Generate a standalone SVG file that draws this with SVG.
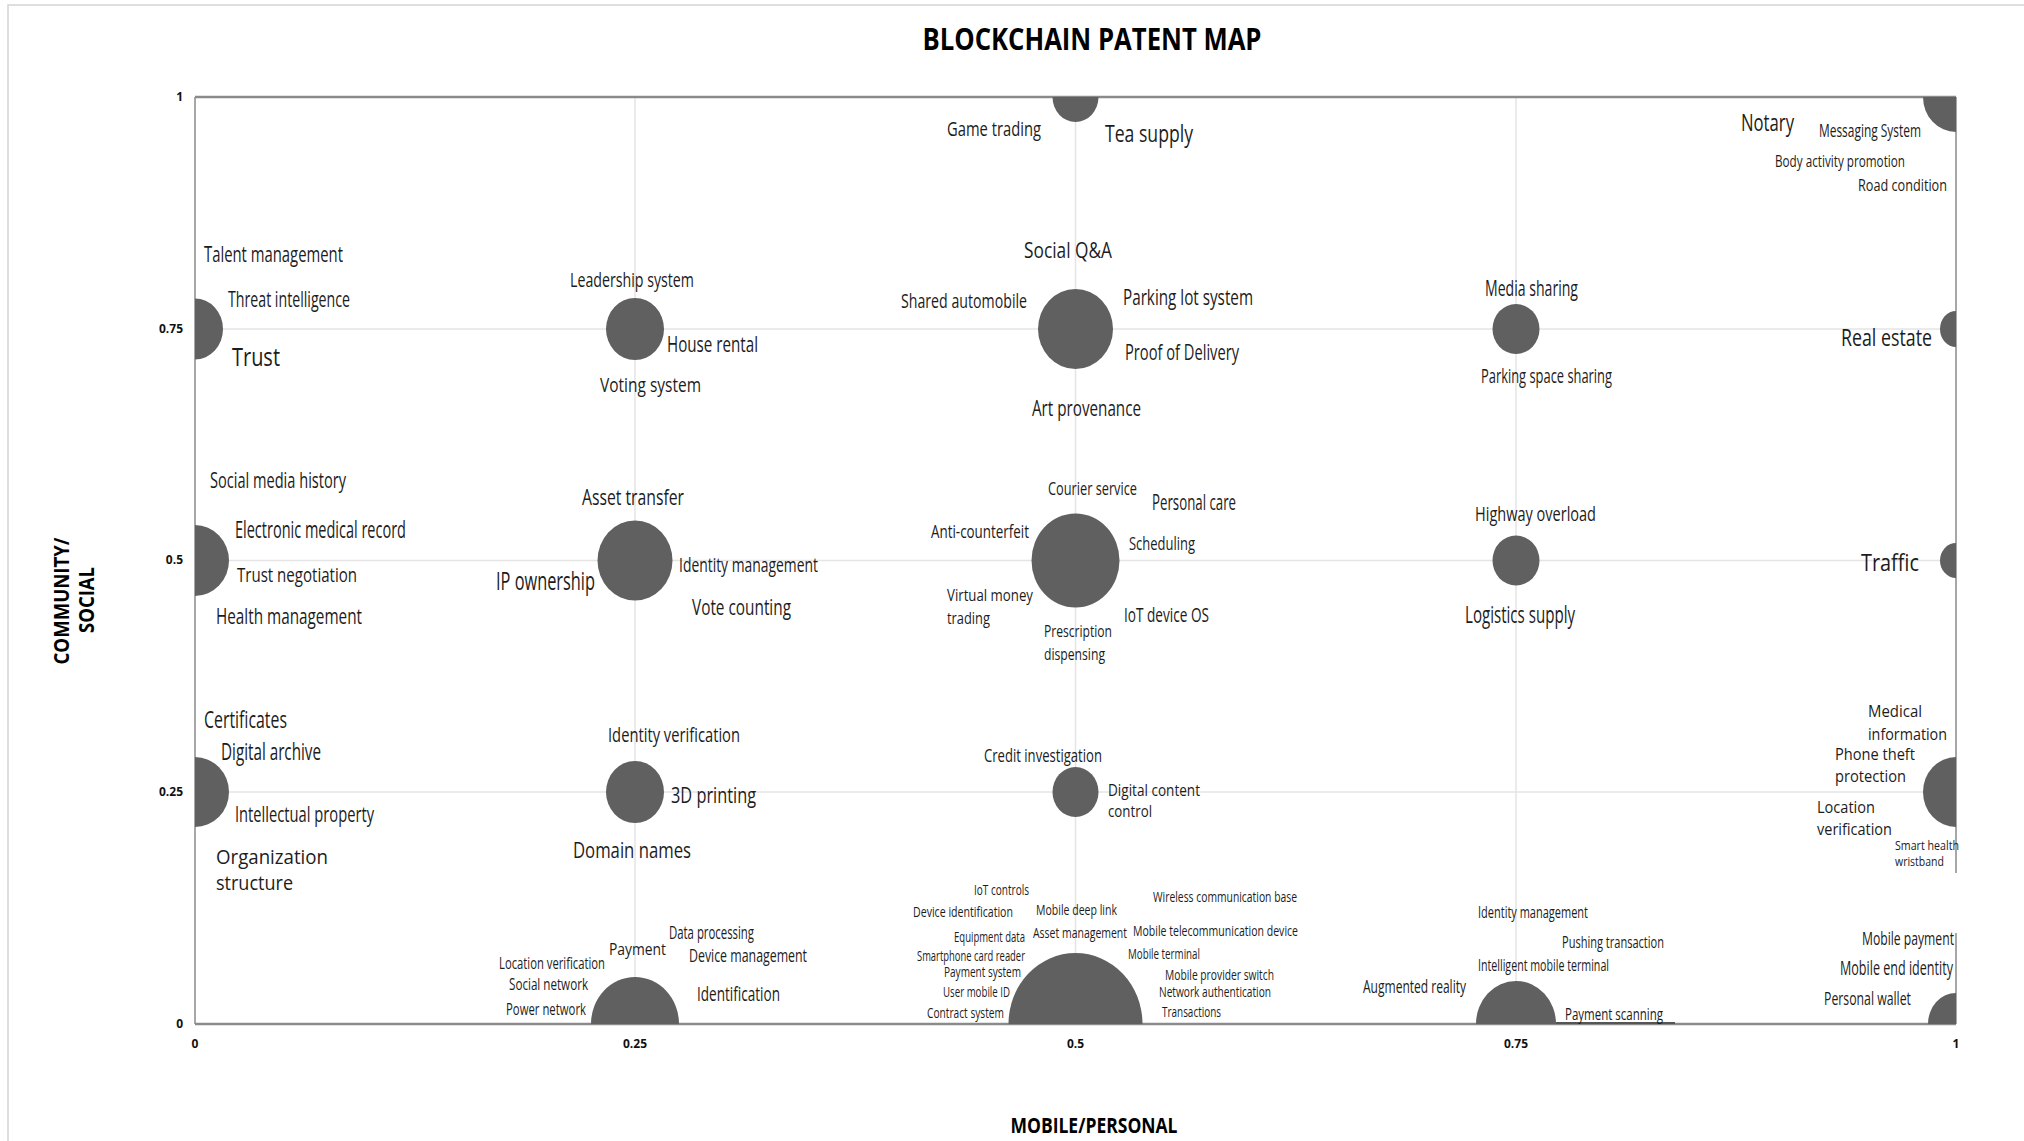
<svg xmlns="http://www.w3.org/2000/svg" width="2024" height="1141" viewBox="0 0 2024 1141">
<style>
.lbl{font-family:"Open Sans","Liberation Sans",sans-serif;fill:#1c1c1c}
.bub{fill:#606060}
.tick{font-family:"Open Sans","Liberation Sans",sans-serif;font-weight:700;font-size:12px;fill:#111}
.ttl{font-family:"Open Sans","Liberation Sans",sans-serif;font-weight:700;fill:#000}
.grid{stroke:#e4e4e4;stroke-width:1.5;fill:none}
.frame{stroke:#8a8a8a;fill:none}
</style>
<defs>
<clipPath id="plot"><rect x="195" y="97" width="1761" height="927"/></clipPath>
</defs>
<rect x="8" y="5" width="2030" height="1150" fill="#fff" stroke="#d4d4d4" stroke-width="1.5"/>
<text class="ttl" x="1092" y="50" font-size="30" text-anchor="middle" textLength="339" lengthAdjust="spacingAndGlyphs">BLOCKCHAIN PATENT MAP</text>
<g id="connectors">
<line class="grid" x1="635" y1="97" x2="635" y2="1024"/>
<line class="grid" x1="1075.5" y1="97" x2="1075.5" y2="1024"/>
<line class="grid" x1="1516" y1="97" x2="1516" y2="1024"/>
<line class="grid" x1="195" y1="329" x2="1956" y2="329"/>
<line class="grid" x1="195" y1="560.5" x2="1956" y2="560.5"/>
<line class="grid" x1="195" y1="792" x2="1956" y2="792"/>
<line class="frame" x1="195" y1="97" x2="1956" y2="97" stroke-width="2.5"/>
<line class="frame" x1="195" y1="97" x2="195" y2="1024" stroke-width="1.5"/>
<line class="frame" x1="1956" y1="97" x2="1956" y2="873" stroke-width="1.5"/>
<line class="frame" x1="1956" y1="933" x2="1956" y2="1024" stroke-width="1.5"/>
<line class="frame" x1="195" y1="1024" x2="1956" y2="1024" stroke-width="2.5"/>
<line x1="1556" y1="1023" x2="1675" y2="1023" stroke="#555" stroke-width="2"/>
</g>
<g id="axis-labels">
<text class="tick" x="183" y="101" text-anchor="end">1</text>
<text class="tick" x="183" y="333" text-anchor="end">0.75</text>
<text class="tick" x="183" y="564" text-anchor="end">0.5</text>
<text class="tick" x="183" y="796" text-anchor="end">0.25</text>
<text class="tick" x="183" y="1028" text-anchor="end">0</text>
<text class="tick" x="195" y="1048" text-anchor="middle">0</text>
<text class="tick" x="635" y="1048" text-anchor="middle">0.25</text>
<text class="tick" x="1075.5" y="1048" text-anchor="middle">0.5</text>
<text class="tick" x="1516" y="1048" text-anchor="middle">0.75</text>
<text class="tick" x="1956" y="1048" text-anchor="middle">1</text>
<text class="ttl" x="1094" y="1133" font-size="22" text-anchor="middle" textLength="167" lengthAdjust="spacingAndGlyphs">MOBILE/PERSONAL</text>
<text class="ttl" transform="translate(69,601) rotate(-90)" font-size="22" text-anchor="middle" textLength="127" lengthAdjust="spacingAndGlyphs">COMMUNITY/</text>
<text class="ttl" transform="translate(94,600) rotate(-90)" font-size="22" text-anchor="middle" textLength="66" lengthAdjust="spacingAndGlyphs">SOCIAL</text>
</g>
<g clip-path="url(#plot)">
<g id="n-050-100"><ellipse class="bub" cx="1075.5" cy="97" rx="23" ry="25"/></g>
<g id="n-100-100"><ellipse class="bub" cx="1956" cy="97" rx="33" ry="35"/></g>
<g id="n-000-075"><ellipse class="bub" cx="195" cy="329" rx="28" ry="30.5"/></g>
<g id="n-025-075"><ellipse class="bub" cx="635" cy="329" rx="29" ry="31"/></g>
<g id="n-050-075"><ellipse class="bub" cx="1075.5" cy="329" rx="37.5" ry="40"/></g>
<g id="n-075-075"><ellipse class="bub" cx="1516" cy="329" rx="23.5" ry="25"/></g>
<g id="n-100-075"><ellipse class="bub" cx="1956" cy="329" rx="16" ry="18"/></g>
<g id="n-000-050"><ellipse class="bub" cx="195" cy="560.5" rx="34" ry="35.5"/></g>
<g id="n-025-050"><ellipse class="bub" cx="635" cy="560.5" rx="37.5" ry="40"/></g>
<g id="n-050-050"><ellipse class="bub" cx="1075.5" cy="560.5" rx="44" ry="47"/></g>
<g id="n-075-050"><ellipse class="bub" cx="1516" cy="560.5" rx="23.5" ry="25"/></g>
<g id="n-100-050"><ellipse class="bub" cx="1956" cy="560.5" rx="16" ry="17.5"/></g>
<g id="n-000-025"><ellipse class="bub" cx="195" cy="792" rx="34" ry="35"/></g>
<g id="n-025-025"><ellipse class="bub" cx="635" cy="792" rx="29" ry="31"/></g>
<g id="n-050-025"><ellipse class="bub" cx="1075.5" cy="792" rx="23" ry="25"/></g>
<g id="n-100-025"><ellipse class="bub" cx="1956" cy="792" rx="33" ry="35"/></g>
<g id="n-025-000"><ellipse class="bub" cx="635" cy="1024" rx="44" ry="47"/></g>
<g id="n-050-000"><ellipse class="bub" cx="1075.5" cy="1024" rx="67" ry="71"/></g>
<g id="n-075-000"><ellipse class="bub" cx="1516" cy="1024" rx="40" ry="43"/></g>
<g id="n-100-000"><ellipse class="bub" cx="1956" cy="1024" rx="28" ry="31"/></g>
</g>
<g id="labels" class="lbl">
<g id="l-050-100">
<text x="947" y="136" font-size="20" textLength="94" lengthAdjust="spacingAndGlyphs">Game trading</text>
<text x="1105" y="142" font-size="24" textLength="88" lengthAdjust="spacingAndGlyphs">Tea supply</text>
</g>
<g id="l-100-100">
<text x="1741" y="131" font-size="24" textLength="53" lengthAdjust="spacingAndGlyphs">Notary</text>
<text x="1819" y="137" font-size="18" textLength="102" lengthAdjust="spacingAndGlyphs">Messaging System</text>
<text x="1775" y="167" font-size="17" textLength="130" lengthAdjust="spacingAndGlyphs">Body activity promotion</text>
<text x="1858" y="191" font-size="17" textLength="89" lengthAdjust="spacingAndGlyphs">Road condition</text>
</g>
<g id="l-000-075">
<text x="204" y="262" font-size="21" textLength="139" lengthAdjust="spacingAndGlyphs">Talent management</text>
<text x="228" y="307" font-size="22" textLength="122" lengthAdjust="spacingAndGlyphs">Threat intelligence</text>
<text x="232" y="366" font-size="26" textLength="48" lengthAdjust="spacingAndGlyphs">Trust</text>
</g>
<g id="l-025-075">
<text x="570" y="287" font-size="20" textLength="124" lengthAdjust="spacingAndGlyphs">Leadership system</text>
<text x="667" y="352" font-size="22" textLength="91" lengthAdjust="spacingAndGlyphs">House rental</text>
<text x="600" y="392" font-size="20" textLength="101" lengthAdjust="spacingAndGlyphs">Voting system</text>
</g>
<g id="l-050-075">
<text x="1024" y="258" font-size="21" textLength="88" lengthAdjust="spacingAndGlyphs">Social Q&amp;A</text>
<text x="901" y="308" font-size="20" textLength="126" lengthAdjust="spacingAndGlyphs">Shared automobile</text>
<text x="1123" y="305" font-size="22" textLength="130" lengthAdjust="spacingAndGlyphs">Parking lot system</text>
<text x="1125" y="360" font-size="22" textLength="114" lengthAdjust="spacingAndGlyphs">Proof of Delivery</text>
<text x="1032" y="416" font-size="22" textLength="109" lengthAdjust="spacingAndGlyphs">Art provenance</text>
</g>
<g id="l-075-075">
<text x="1485" y="296" font-size="21" textLength="93" lengthAdjust="spacingAndGlyphs">Media sharing</text>
<text x="1481" y="383" font-size="20" textLength="131" lengthAdjust="spacingAndGlyphs">Parking space sharing</text>
</g>
<g id="l-100-075">
<text x="1841" y="346" font-size="24" textLength="91" lengthAdjust="spacingAndGlyphs">Real estate</text>
</g>
<g id="l-000-050">
<text x="210" y="488" font-size="21" textLength="136" lengthAdjust="spacingAndGlyphs">Social media history</text>
<text x="235" y="538" font-size="23" textLength="171" lengthAdjust="spacingAndGlyphs">Electronic medical record</text>
<text x="237" y="582" font-size="20" textLength="120" lengthAdjust="spacingAndGlyphs">Trust negotiation</text>
<text x="216" y="624" font-size="22" textLength="146" lengthAdjust="spacingAndGlyphs">Health management</text>
</g>
<g id="l-025-050">
<text x="582" y="505" font-size="22" textLength="102" lengthAdjust="spacingAndGlyphs">Asset transfer</text>
<text x="496" y="590" font-size="25" textLength="99" lengthAdjust="spacingAndGlyphs">IP ownership</text>
<text x="679" y="572" font-size="20" textLength="139" lengthAdjust="spacingAndGlyphs">Identity management</text>
<text x="692" y="615" font-size="21" textLength="99" lengthAdjust="spacingAndGlyphs">Vote counting</text>
</g>
<g id="l-050-050">
<text x="1048" y="495" font-size="18" textLength="89" lengthAdjust="spacingAndGlyphs">Courier service</text>
<text x="1152" y="510" font-size="22" textLength="84" lengthAdjust="spacingAndGlyphs">Personal care</text>
<text x="931" y="538" font-size="19" textLength="98" lengthAdjust="spacingAndGlyphs">Anti-counterfeit</text>
<text x="1129" y="550" font-size="19" textLength="66" lengthAdjust="spacingAndGlyphs">Scheduling</text>
<text x="947" y="601" font-size="17" textLength="86" lengthAdjust="spacingAndGlyphs">Virtual money</text>
<text x="947" y="624" font-size="17" textLength="43" lengthAdjust="spacingAndGlyphs">trading</text>
<text x="1124" y="622" font-size="20" textLength="85" lengthAdjust="spacingAndGlyphs">IoT device OS</text>
<text x="1044" y="637" font-size="16" textLength="68" lengthAdjust="spacingAndGlyphs">Prescription</text>
<text x="1044" y="660" font-size="16" textLength="61" lengthAdjust="spacingAndGlyphs">dispensing</text>
</g>
<g id="l-075-050">
<text x="1475" y="521" font-size="20" textLength="121" lengthAdjust="spacingAndGlyphs">Highway overload</text>
<text x="1465" y="623" font-size="23" textLength="110" lengthAdjust="spacingAndGlyphs">Logistics supply</text>
</g>
<g id="l-100-050">
<text x="1861" y="571" font-size="24" textLength="58" lengthAdjust="spacingAndGlyphs">Traffic</text>
</g>
<g id="l-000-025">
<text x="204" y="728" font-size="24" textLength="83" lengthAdjust="spacingAndGlyphs">Certificates</text>
<text x="221" y="760" font-size="23" textLength="100" lengthAdjust="spacingAndGlyphs">Digital archive</text>
<text x="235" y="822" font-size="22" textLength="139" lengthAdjust="spacingAndGlyphs">Intellectual property</text>
<text x="216" y="864" font-size="20" textLength="112" lengthAdjust="spacingAndGlyphs">Organization</text>
<text x="216" y="890" font-size="20" textLength="77" lengthAdjust="spacingAndGlyphs">structure</text>
</g>
<g id="l-025-025">
<text x="608" y="742" font-size="20" textLength="132" lengthAdjust="spacingAndGlyphs">Identity verification</text>
<text x="671" y="803" font-size="22" textLength="85" lengthAdjust="spacingAndGlyphs">3D printing</text>
<text x="573" y="858" font-size="22" textLength="118" lengthAdjust="spacingAndGlyphs">Domain names</text>
</g>
<g id="l-050-025">
<text x="984" y="762" font-size="19" textLength="118" lengthAdjust="spacingAndGlyphs">Credit investigation</text>
<text x="1108" y="796" font-size="17" textLength="92" lengthAdjust="spacingAndGlyphs">Digital content</text>
<text x="1108" y="817" font-size="17" textLength="44" lengthAdjust="spacingAndGlyphs">control</text>
</g>
<g id="l-100-025">
<text x="1868" y="717" font-size="17" textLength="54" lengthAdjust="spacingAndGlyphs">Medical</text>
<text x="1868" y="740" font-size="17" textLength="79" lengthAdjust="spacingAndGlyphs">information</text>
<text x="1835" y="760" font-size="17" textLength="80" lengthAdjust="spacingAndGlyphs">Phone theft</text>
<text x="1835" y="782" font-size="17" textLength="71" lengthAdjust="spacingAndGlyphs">protection</text>
<text x="1817" y="813" font-size="17" textLength="58" lengthAdjust="spacingAndGlyphs">Location</text>
<text x="1817" y="835" font-size="17" textLength="75" lengthAdjust="spacingAndGlyphs">verification</text>
<text x="1895" y="850" font-size="13" textLength="64" lengthAdjust="spacingAndGlyphs">Smart health</text>
<text x="1895" y="866" font-size="13" textLength="49" lengthAdjust="spacingAndGlyphs">wristband</text>
</g>
<g id="l-025-000">
<text x="499" y="969" font-size="17" textLength="106" lengthAdjust="spacingAndGlyphs">Location verification</text>
<text x="509" y="990" font-size="17" textLength="79" lengthAdjust="spacingAndGlyphs">Social network</text>
<text x="506" y="1015" font-size="17" textLength="80" lengthAdjust="spacingAndGlyphs">Power network</text>
<text x="609" y="955" font-size="16" textLength="57" lengthAdjust="spacingAndGlyphs">Payment</text>
<text x="669" y="939" font-size="18" textLength="85" lengthAdjust="spacingAndGlyphs">Data processing</text>
<text x="689" y="962" font-size="19" textLength="118" lengthAdjust="spacingAndGlyphs">Device management</text>
<text x="697" y="1001" font-size="20" textLength="83" lengthAdjust="spacingAndGlyphs">Identification</text>
</g>
<g id="l-050-000">
<text x="974" y="895" font-size="14" textLength="55" lengthAdjust="spacingAndGlyphs">IoT controls</text>
<text x="913" y="917" font-size="14" textLength="100" lengthAdjust="spacingAndGlyphs">Device identification</text>
<text x="1036" y="915" font-size="14" textLength="81" lengthAdjust="spacingAndGlyphs">Mobile deep link</text>
<text x="1153" y="902" font-size="14" textLength="144" lengthAdjust="spacingAndGlyphs">Wireless communication base</text>
<text x="954" y="942" font-size="14" textLength="71" lengthAdjust="spacingAndGlyphs">Equipment data</text>
<text x="1033" y="938" font-size="14" textLength="94" lengthAdjust="spacingAndGlyphs">Asset management</text>
<text x="1133" y="936" font-size="14" textLength="165" lengthAdjust="spacingAndGlyphs">Mobile telecommunication device</text>
<text x="917" y="961" font-size="14" textLength="108" lengthAdjust="spacingAndGlyphs">Smartphone card reader</text>
<text x="1128" y="959" font-size="14" textLength="72" lengthAdjust="spacingAndGlyphs">Mobile terminal</text>
<text x="944" y="977" font-size="14" textLength="77" lengthAdjust="spacingAndGlyphs">Payment system</text>
<text x="1165" y="980" font-size="14" textLength="109" lengthAdjust="spacingAndGlyphs">Mobile provider switch</text>
<text x="943" y="997" font-size="14" textLength="67" lengthAdjust="spacingAndGlyphs">User mobile ID</text>
<text x="1159" y="997" font-size="14" textLength="112" lengthAdjust="spacingAndGlyphs">Network authentication</text>
<text x="927" y="1018" font-size="14" textLength="77" lengthAdjust="spacingAndGlyphs">Contract system</text>
<text x="1162" y="1017" font-size="14" textLength="59" lengthAdjust="spacingAndGlyphs">Transactions</text>
</g>
<g id="l-075-000">
<text x="1363" y="993" font-size="18" textLength="103" lengthAdjust="spacingAndGlyphs">Augmented reality</text>
<text x="1478" y="918" font-size="17" textLength="110" lengthAdjust="spacingAndGlyphs">Identity management</text>
<text x="1562" y="948" font-size="17" textLength="102" lengthAdjust="spacingAndGlyphs">Pushing transaction</text>
<text x="1478" y="971" font-size="17" textLength="131" lengthAdjust="spacingAndGlyphs">Intelligent mobile terminal</text>
<text x="1565" y="1020" font-size="16" textLength="98" lengthAdjust="spacingAndGlyphs">Payment scanning</text>
</g>
<g id="l-100-000">
<text x="1862" y="945" font-size="18" textLength="92" lengthAdjust="spacingAndGlyphs">Mobile payment</text>
<text x="1840" y="975" font-size="20" textLength="113" lengthAdjust="spacingAndGlyphs">Mobile end identity</text>
<text x="1824" y="1005" font-size="19" textLength="87" lengthAdjust="spacingAndGlyphs">Personal wallet</text>
</g>
</g>
</svg>
